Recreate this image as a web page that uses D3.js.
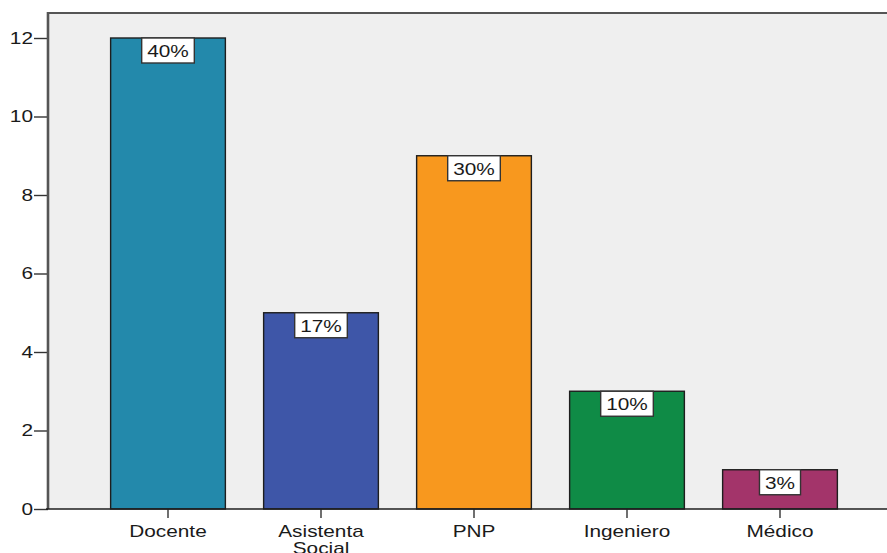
<!DOCTYPE html>
<html>
<head>
<meta charset="utf-8">
<script src="https://cdn.jsdelivr.net/npm/d3@7"></script>
<style>
  html, body { margin: 0; padding: 0; background: #ffffff; }
  svg { display: block; }
  text { font-family: "Liberation Sans", Arial, sans-serif; fill: #1a1a1a; }
</style>
</head>
<body>
<svg id="chart" width="887" height="553"></svg>
<script>
// Ocupación de los participantes (frecuencias y porcentajes)
const categories = ["Docente", "Asistenta Social", "PNP", "Ingeniero", "Médico"];
const counts = [12, 5, 9, 3, 1];
const percentLabels = ["40%", "17%", "30%", "10%", "3%"];
const barColors = ["#2389ab", "#3e56a8", "#f8981e", "#0f8b46", "#a3346a"];
const yTicks = [0, 2, 4, 6, 8, 10, 12];

const W = 887, H = 553;
const frame = { left: 48, top: 13, right: 900, bottom: 509 };
const stretch = 1.3;   // horizontally widened lettering
const fontSize = 16;

const svg = d3.select("#chart");

const x = d3.scaleBand()
  .domain(categories)
  .range([91.5, 856.5])
  .paddingInner(0.25)
  .paddingOuter(0.125);

const y = d3.scaleLinear()
  .domain([0, 12])
  .range([frame.bottom, 38]);

// plot background
svg.append("rect")
  .attr("x", frame.left).attr("y", frame.top)
  .attr("width", frame.right - frame.left)
  .attr("height", frame.bottom - frame.top)
  .attr("fill", "#efefef");

// top frame line
svg.append("line")
  .attr("x1", frame.left).attr("x2", frame.right)
  .attr("y1", frame.top).attr("y2", frame.top)
  .attr("stroke", "#555").attr("stroke-width", 2.2);

// bars
svg.append("g").selectAll("rect")
  .data(categories)
  .join("rect")
  .attr("x", d => x(d))
  .attr("y", (d, i) => y(counts[i]))
  .attr("width", x.bandwidth())
  .attr("height", (d, i) => y(0) - y(counts[i]))
  .attr("fill", (d, i) => barColors[i])
  .attr("stroke", "#1e1e1e")
  .attr("stroke-width", 1.4);

// value labels in boxes at the top of each bar
const labels = svg.append("g").selectAll("g")
  .data(categories)
  .join("g")
  .attr("transform", (d, i) => `translate(${x(d) + x.bandwidth() / 2},${y(counts[i])})`);

labels.each(function (d, i) {
  const g = d3.select(this);
  const rect = g.append("rect");
  const t = g.append("text")
    .attr("text-anchor", "middle")
    .attr("transform", `translate(0,19) scale(${stretch},1)`)
    .attr("font-size", fontSize)
    .text(percentLabels[i]);
  const tw = t.node().getComputedTextLength() * stretch;
  const bw = tw + 11;
  rect.attr("x", -bw / 2).attr("y", 0)
    .attr("width", bw).attr("height", 25)
    .attr("fill", "#ffffff")
    .attr("stroke", "#333")
    .attr("stroke-width", 1.4);
});

// y axis
const yAxis = svg.append("g")
  .attr("transform", `translate(${frame.left},0)`)
  .call(d3.axisLeft(y).tickValues(yTicks).tickFormat(d3.format("d")).tickSize(14).tickPadding(0));
yAxis.select(".domain").remove();
yAxis.selectAll(".tick line").attr("stroke", "#333").attr("stroke-width", 1.4);
yAxis.selectAll(".tick text")
  .attr("font-size", fontSize)
  .attr("font-family", null)
  .attr("fill", "#1a1a1a")
  .attr("x", null)
  .attr("transform", `translate(-15,0) scale(${stretch},1)`);

// left frame line
svg.append("line")
  .attr("x1", frame.left).attr("x2", frame.left)
  .attr("y1", frame.top - 1).attr("y2", frame.bottom)
  .attr("stroke", "#555").attr("stroke-width", 2.6);

// x axis
const xAxis = svg.append("g")
  .attr("transform", `translate(0,${frame.bottom})`)
  .call(d3.axisBottom(x).tickSize(9).tickFormat(""));
xAxis.select(".domain").remove();
xAxis.selectAll(".tick line").attr("stroke", "#333").attr("stroke-width", 1.4);

svg.append("line")
  .attr("x1", frame.left - 2).attr("x2", frame.right)
  .attr("y1", frame.bottom).attr("y2", frame.bottom)
  .attr("stroke", "#1e1e1e").attr("stroke-width", 1.6);

// category names, wrapped onto two lines where needed
xAxis.selectAll(".tick").each(function (d) {
  const words = d.split(" ");
  const t = d3.select(this).append("text")
    .attr("text-anchor", "middle")
    .attr("font-size", fontSize)
    .attr("transform", `translate(0,28) scale(${stretch},1)`);
  words.forEach((w, k) => {
    t.append("tspan").attr("x", 0).attr("dy", k === 0 ? 0 : 17).text(w);
  });
});
</script>
</body>
</html>
